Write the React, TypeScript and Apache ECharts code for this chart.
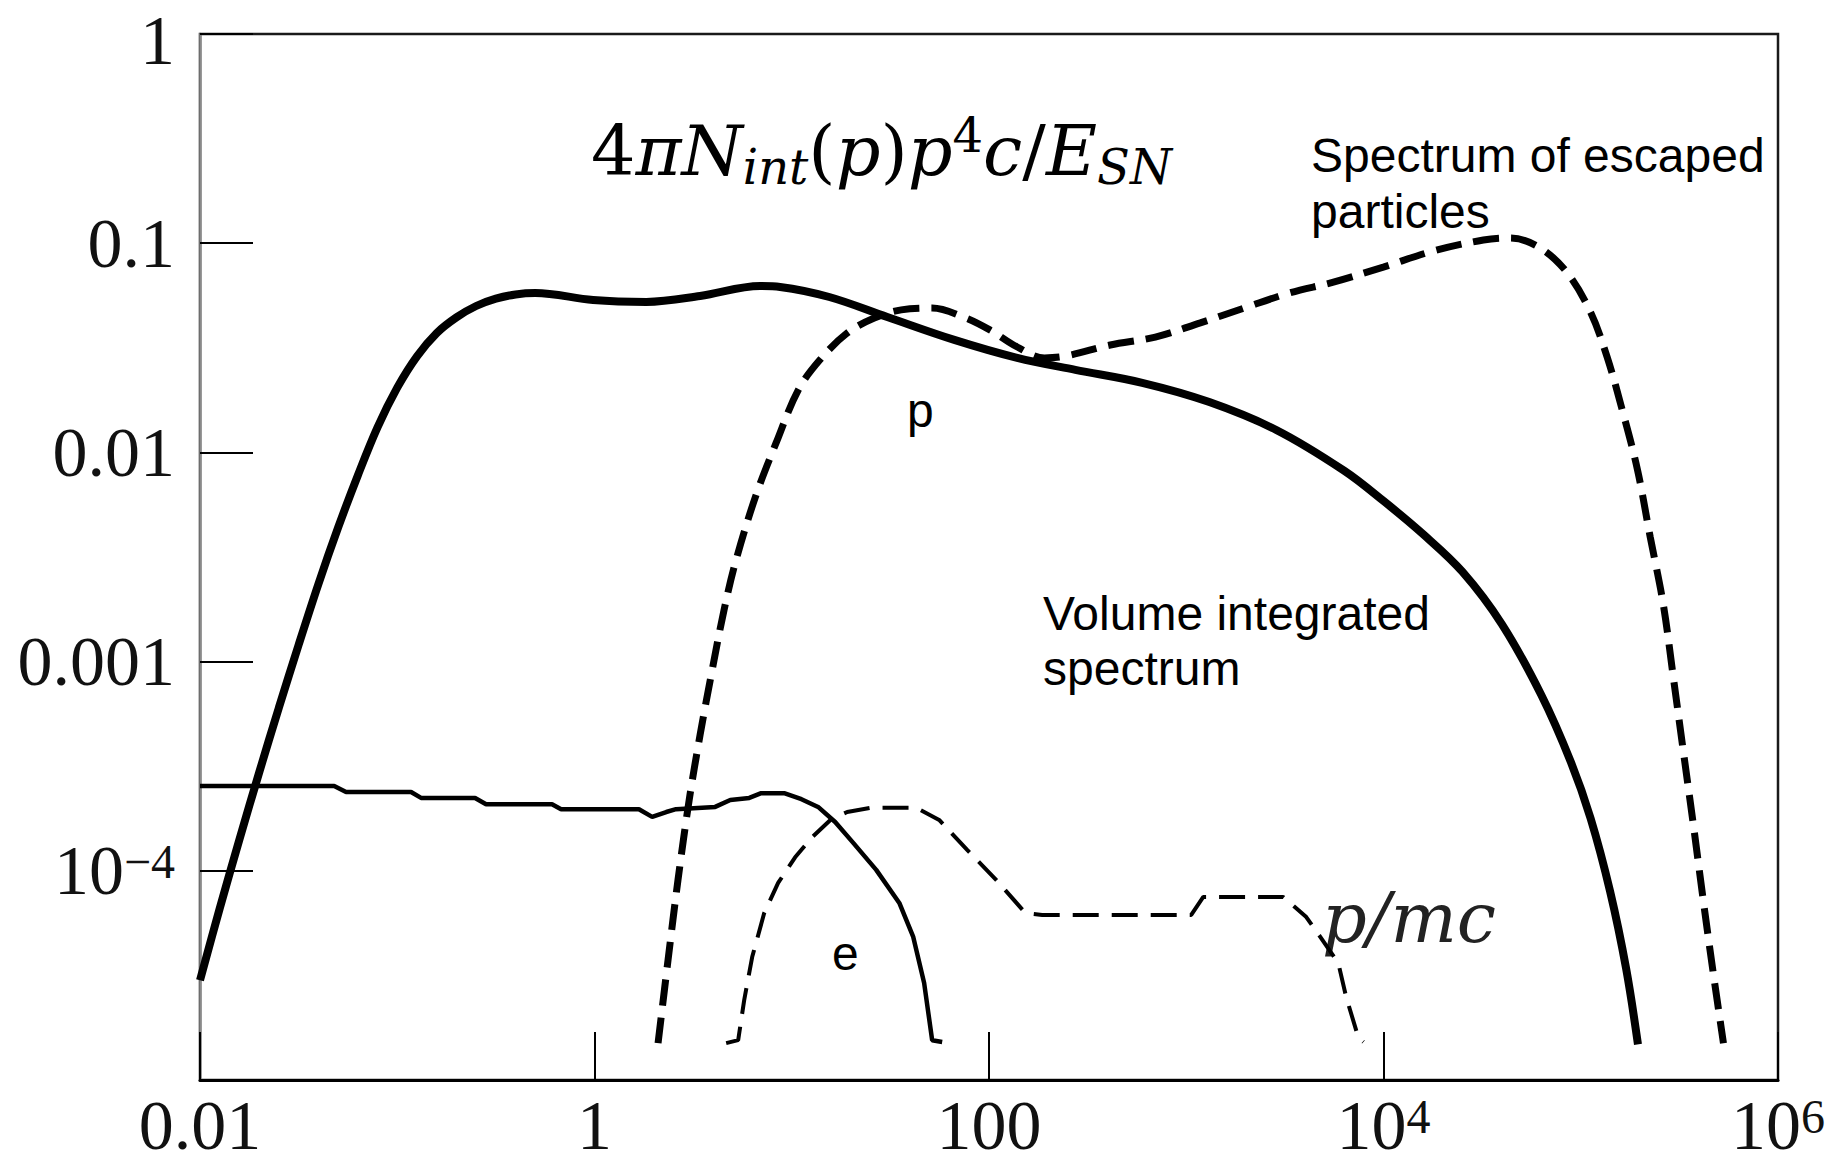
import React, { useEffect, useRef } from 'react';
import * as echarts from 'echarts';

// Tick values and labels
const xTickValues = [0.01, 1, 100, 1e4, 1e6];
const xTickLabels = ['0.01', '1', '100', '{b|10}{s|4}', '{b|10}{s|6}'];
const yTickValues = [1, 0.1, 0.01, 0.001, 1e-4, 1e-5];
const yTickLabels = ['{t|1}', '0.1', '0.01', '0.001', '{b|10}{s|\u22124}', ''];

// Protons: volume integrated spectrum (thick solid)
const protonVolume: [number, number][] = [
  [0.01, 3.0e-5],
  [0.01259, 6.61e-5],
  [0.01585, 1.413e-4],
  [0.01995, 2.95e-4],
  [0.02512, 6.03e-4],
  [0.03162, 1.202e-3],
  [0.03981, 2.344e-3],
  [0.05012, 4.365e-3],
  [0.0631, 7.76e-3],
  [0.0794, 0.01318],
  [0.1, 0.0204],
  [0.1259, 0.0288],
  [0.1585, 0.0372],
  [0.1995, 0.0442],
  [0.2512, 0.0501],
  [0.3162, 0.0543],
  [0.398, 0.0569],
  [0.501, 0.0578],
  [0.984, 0.0535],
  [1.83, 0.0524],
  [3.43, 0.0559],
  [6.92, 0.0624],
  [8.73, 0.0618],
  [15.5, 0.0553],
  [30.5, 0.0444],
  [66.7, 0.0345],
  [139, 0.0283],
  [274, 0.0248],
  [598, 0.0215],
  [1309, 0.0174],
  [2860, 0.0128],
  [6310, 8.18e-3],
  [10000, 5.86e-3],
  [15850, 4.07e-3],
  [25100, 2.69e-3],
  [39800, 1.51e-3],
  [63100, 6.92e-4],
  [89100, 3.31e-4],
  [112200, 1.78e-4],
  [141000, 7.94e-5],
  [170000, 3.39e-5],
  [195000, 1.48e-5],
];

// Protons: spectrum of escaped particles (thick dashed)
const protonEscaped: [number, number][] = [
  [2.1, 1.5e-5],
  [2.36, 3.75e-5],
  [2.65, 9.03e-5],
  [3.02, 2.18e-4],
  [3.43, 4.46e-4],
  [3.95, 9.12e-4],
  [4.54, 1.77e-3],
  [5.22, 3.06e-3],
  [6.59, 6.25e-3],
  [8.33, 0.0111],
  [10.8, 0.0199],
  [13.9, 0.0277],
  [19.1, 0.0372],
  [26.2, 0.0439],
  [35.9, 0.048],
  [51.5, 0.049],
  [74.0, 0.0444],
  [101, 0.0385],
  [139, 0.0319],
  [191, 0.0283],
  [246, 0.0289],
  [412, 0.0326],
  [697, 0.0356],
  [1178, 0.0416],
  [1968, 0.049],
  [3330, 0.0578],
  [5630, 0.0653],
  [9980, 0.0769],
  [17900, 0.0918],
  [32100, 0.1036],
  [44000, 0.1059],
  [62400, 0.0948],
  [85500, 0.0721],
  [112000, 0.0469],
  [136000, 0.0286],
  [164000, 0.0154],
  [194000, 8.24e-3],
  [225000, 3.94e-3],
  [262000, 1.88e-3],
  [295000, 8.35e-4],
  [331000, 3.74e-4],
  [372000, 1.67e-4],
  [419000, 7.1e-5],
  [471000, 3.18e-5],
  [529000, 1.5e-5],
];

// Electrons: volume integrated spectrum (thin solid)
const electronVolume: [number, number][] = [
  [0.01, 2.54e-4],
  [0.0479, 2.54e-4],
  [0.055, 2.38e-4],
  [0.1175, 2.38e-4],
  [0.132, 2.23e-4],
  [0.248, 2.23e-4],
  [0.282, 2.08e-4],
  [0.609, 2.08e-4],
  [0.677, 1.97e-4],
  [1.68, 1.97e-4],
  [1.96, 1.81e-4],
  [2.31, 1.91e-4],
  [2.59, 1.97e-4],
  [4.09, 2.02e-4],
  [4.88, 2.18e-4],
  [6.09, 2.23e-4],
  [7.0, 2.35e-4],
  [9.15, 2.35e-4],
  [11.2, 2.2e-4],
  [13.6, 2.02e-4],
  [16.6, 1.71e-4],
  [20.5, 1.36e-4],
  [26.8, 1.01e-4],
  [35.1, 7.02e-5],
  [41.3, 4.83e-5],
  [46.9, 2.91e-5],
  [51.5, 1.55e-5],
  [57.9, 1.52e-5],
];

// Electrons: spectrum of escaped particles (thin dashed)
const electronEscaped: [number, number][] = [
  [4.65, 1.5e-5],
  [5.35, 1.55e-5],
  [5.74, 2.41e-5],
  [6.3, 3.87e-5],
  [7.25, 6.28e-5],
  [8.53, 8.75e-5],
  [10.4, 1.16e-4],
  [12.7, 1.45e-4],
  [15.7, 1.75e-4],
  [19.1, 1.91e-4],
  [25.0, 2.0e-4],
  [42.8, 2.0e-4],
  [55.9, 1.75e-4],
  [77.5, 1.26e-4],
  [109, 9.03e-5],
  [153, 6.28e-5],
  [186, 6.15e-5],
  [1060, 6.15e-5],
  [1220, 7.5e-5],
  [3100, 7.5e-5],
  [4060, 6.01e-5],
  [4780, 4.83e-5],
  [5900, 3.62e-5],
  [6470, 2.49e-5],
  [7450, 1.6e-5],
  [7910, 1.52e-5],
];

const SERIF = '"Liberation Serif", "Times New Roman", serif';
const MATH = '"DejaVu Serif", serif';
const SANS = '"Liberation Sans", Arial, sans-serif';

function makeFormatter(values: number[], labels: string[]) {
  return (v: number) => {
    const lv = Math.log10(v);
    for (let i = 0; i < values.length; i++) {
      if (Math.abs(lv - Math.log10(values[i])) < 0.05) return labels[i];
    }
    return '';
  };
}

export default function App() {
  const ref = useRef<HTMLDivElement>(null);

  useEffect(() => {
    if (!ref.current) return;
    const chart = echarts.init(ref.current, null, { renderer: 'svg' });

    const tickRich = {
      b: { fontFamily: SERIF, fontSize: 70, lineHeight: 66, color: '#111' },
      s: { fontFamily: SERIF, fontSize: 48, lineHeight: 42, verticalAlign: 'top', color: '#111' },
      t: { fontFamily: SERIF, fontSize: 70, lineHeight: 62, padding: [12, 0, 0, 0], color: '#111' },
    };

    const option: any = {
      animation: false,
      backgroundColor: '#ffffff',
      grid: {
        left: 200,
        top: 34,
        right: 68,
        bottom: 82,
        show: true,
        borderColor: '#1a1a1a',
        borderWidth: 2.5,
        backgroundColor: 'transparent',
        outerBoundsMode: 'none',
        containLabel: false,
      },
      xAxis: {
        type: 'log',
        logBase: 100,
        min: 0.01,
        max: 1e6,
        splitNumber: 4,
        axisLine: { show: true, lineStyle: { color: '#000', width: 3 } },
        axisTick: { show: true, inside: true, length: 48, lineStyle: { color: '#000', width: 2 } },
        minorTick: { show: false },
        splitLine: { show: false },
        axisLabel: {
          margin: 12,
          fontFamily: SERIF,
          fontSize: 70,
          lineHeight: 66,
          color: '#111',
          verticalAlign: 'top',
          formatter: makeFormatter(xTickValues, xTickLabels),
          rich: tickRich,
        },
      },
      yAxis: {
        type: 'log',
        logBase: 10,
        min: 1e-5,
        max: 1,
        axisLine: { show: true, lineStyle: { color: '#8a8a8a', width: 2.5 } },
        axisTick: { show: true, inside: true, length: 53, lineStyle: { color: '#000', width: 2 } },
        minorTick: { show: false },
        splitLine: { show: false },
        axisLabel: {
          margin: 25,
          fontFamily: SERIF,
          fontSize: 70,
          lineHeight: 62,
          color: '#111',
          formatter: makeFormatter(yTickValues, yTickLabels),
          rich: tickRich,
        },
      },
      series: [
        {
          name: 'p volume',
          type: 'line',
          data: protonVolume,
          smooth: 0.35,
          symbol: 'none',
          lineStyle: { color: '#000', width: 8 },
        },
        {
          name: 'p escaped',
          type: 'line',
          data: protonEscaped,
          smooth: 0.35,
          symbol: 'none',
          lineStyle: { color: '#000', width: 7, type: [26, 12] },
        },
        {
          name: 'e volume',
          type: 'line',
          data: electronVolume,
          symbol: 'none',
          lineStyle: { color: '#000', width: 4.5 },
        },
        {
          name: 'e escaped',
          type: 'line',
          data: electronEscaped,
          symbol: 'none',
          lineStyle: { color: '#000', width: 4, type: [26, 13] },
        },
      ],
      graphic: [
        {
          type: 'text',
          x: 591,
          y: 111,
          style: {
            text: '{n|4}{i|\u03c0N}{sb|int}{n|(}{i|p}{n|)}{i|p}{sp|4}{i|c}{n|/}{i|E}{sb|SN}',
            align: 'left',
            verticalAlign: 'top',
            rich: {
              n: { fontFamily: MATH, fontSize: 70, lineHeight: 80, color: '#1a1a2a' },
              i: { fontFamily: MATH, fontStyle: 'italic', fontSize: 70, lineHeight: 80, color: '#1a1a2a' },
              sb: { fontFamily: MATH, fontStyle: 'italic', fontSize: 48, lineHeight: 42, verticalAlign: 'bottom', color: '#1a1a2a' },
              sp: { fontFamily: MATH, fontSize: 48, lineHeight: 54, verticalAlign: 'top', color: '#1a1a2a' },
            },
          },
        },
        {
          type: 'text',
          x: 1322,
          y: 918,
          style: {
            text: 'p/mc',
            fontFamily: MATH,
            fontStyle: 'italic',
            fontSize: 70,
            fill: '#222',
            align: 'left',
            verticalAlign: 'middle',
          },
        },
        {
          type: 'text',
          x: 1311,
          y: 155,
          style: { text: 'Spectrum of escaped', fontFamily: SANS, fontSize: 48, fill: '#000', align: 'left', verticalAlign: 'middle' },
        },
        {
          type: 'text',
          x: 1311,
          y: 211,
          style: { text: 'particles', fontFamily: SANS, fontSize: 48, fill: '#000', align: 'left', verticalAlign: 'middle' },
        },
        {
          type: 'text',
          x: 907,
          y: 410,
          style: { text: 'p', fontFamily: SANS, fontSize: 48, fill: '#000', align: 'left', verticalAlign: 'middle' },
        },
        {
          type: 'text',
          x: 1043,
          y: 613,
          style: { text: 'Volume integrated', fontFamily: SANS, fontSize: 48, fill: '#000', align: 'left', verticalAlign: 'middle' },
        },
        {
          type: 'text',
          x: 1043,
          y: 668,
          style: { text: 'spectrum', fontFamily: SANS, fontSize: 48, fill: '#000', align: 'left', verticalAlign: 'middle' },
        },
        {
          type: 'text',
          x: 832,
          y: 953,
          style: { text: 'e', fontFamily: SANS, fontSize: 48, fill: '#000', align: 'left', verticalAlign: 'middle' },
        },
      ],
    };

    chart.setOption(option);
    return () => chart.dispose();
  }, []);

  return (
    <div
      ref={ref}
      style={{ position: 'fixed', left: 0, top: 0, width: 1846, height: 1162, background: '#fff' }}
    />
  );
}
